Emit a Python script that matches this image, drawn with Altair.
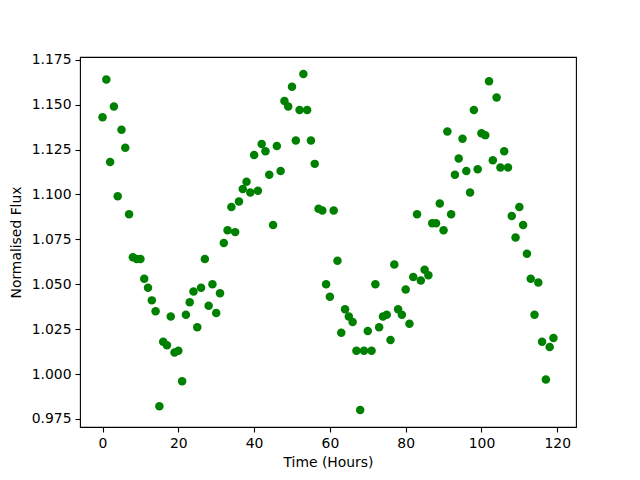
import altair as alt
import pandas as pd

flux = [
    1.143, 1.164, 1.118, 1.149, 1.099, 1.136, 1.126, 1.089, 1.065, 1.064,
    1.064, 1.053, 1.048, 1.041, 1.035, 0.982, 1.018, 1.016, 1.032, 1.012,
    1.013, 0.996, 1.033, 1.040, 1.046, 1.026, 1.048, 1.064, 1.038, 1.050,
    1.034, 1.045, 1.073, 1.080, 1.093, 1.079, 1.096, 1.103, 1.107, 1.101,
    1.122, 1.102, 1.128, 1.124, 1.111, 1.083, 1.127, 1.113, 1.152, 1.149,
    1.160, 1.130, 1.147, 1.167, 1.147, 1.130, 1.117, 1.092, 1.091, 1.050,
    1.043, 1.091, 1.063, 1.023, 1.036, 1.032, 1.029, 1.013, 0.980, 1.013,
    1.024, 1.013, 1.050, 1.026, 1.032, 1.033, 1.019, 1.061, 1.036, 1.033,
    1.047, 1.028, 1.054, 1.089, 1.052, 1.058, 1.055, 1.084, 1.084, 1.095,
    1.080, 1.135, 1.089, 1.111, 1.120, 1.131, 1.113, 1.101, 1.147, 1.114,
    1.134, 1.133, 1.163, 1.119, 1.154, 1.115, 1.124, 1.115, 1.088, 1.076,
    1.093, 1.083, 1.067, 1.053, 1.033, 1.051, 1.018, 0.997, 1.015, 1.020,
]
hours = list(range(len(flux)))
x_ticks = [0, 20, 40, 60, 80, 100, 120]
y_ticks = [0.975, 1.000, 1.025, 1.050, 1.075, 1.100, 1.125, 1.150, 1.175]

df = pd.DataFrame({"hours": hours, "flux": flux})

font = "DejaVu Sans"
chart = alt.Chart(df).mark_point(
    filled=True, shape="circle", size=72, color="#008000", opacity=1
).encode(
    x=alt.X("hours:Q", title="Time (Hours)",
            scale=alt.Scale(domain=[-5.95, 124.95], nice=False, zero=False),
            axis=alt.Axis(values=x_ticks, format="d", grid=False, tickSize=5,
                          labelPadding=4, titlePadding=6, domain=False)),
    y=alt.Y("flux:Q", title="Normalised Flux",
            scale=alt.Scale(domain=[0.9705, 1.1765], nice=False, zero=False),
            axis=alt.Axis(values=y_ticks, format=".3f", grid=False, tickSize=5,
                          labelPadding=4, titlePadding=8, domain=False)),
).properties(
    width=496, height=370,
    autosize=alt.AutoSizeParams(type="none"),
    padding={"left": 72, "top": 49, "right": 56, "bottom": 45},
).configure_view(
    stroke="black", strokeWidth=1.1
).configure_axis(
    labelFont=font, titleFont=font, labelFontSize=13.9, titleFontSize=13.9,
    titleFontWeight="normal", labelColor="black", titleColor="black",
    tickColor="black", tickWidth=1.1
)

chart.save("out.html", embed_options={"renderer": "svg", "actions": False})
